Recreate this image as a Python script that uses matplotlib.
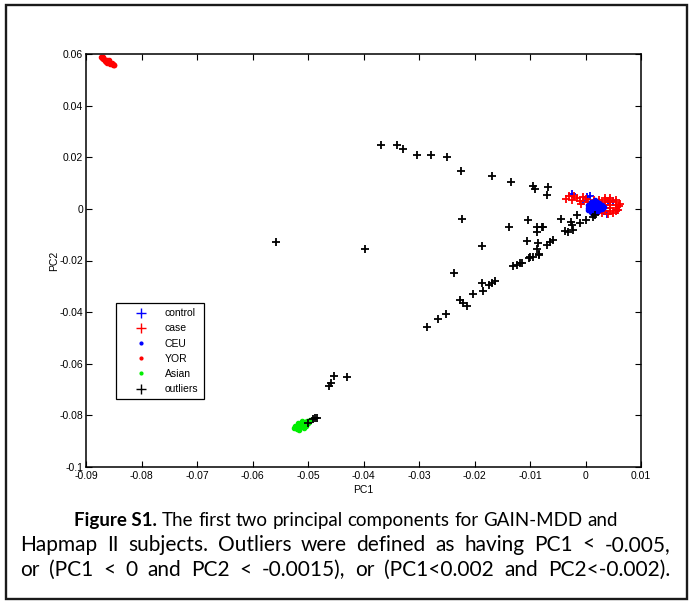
import numpy as np
import matplotlib
matplotlib.use("Agg")
import matplotlib.pyplot as plt
from matplotlib.lines import Line2D
from matplotlib.patches import Rectangle

# control subjects (blue crosses), mostly hidden under the case cloud
control_x = [-0.0024, 0.0002, 0.0008, 0.0056, 0.0038, 0.0020, 0.0030, 0.0010, 0.0040, -0.0005, 0.0050, 0.0025]
control_y = [0.0058, 0.0047, 0.0050, -0.0004, -0.0020, 0.0020, 0.0010, 0.0000, 0.0025, 0.0030, 0.0030, -0.0010]

# case subjects (red crosses)
case_x = [0.0015, 0.0015, 0.0015, 0.0015, 0.0015,
          0.0025, 0.0025, 0.0025, 0.0025, 0.0025,
          0.0035, 0.0035, 0.0035, 0.0035, 0.0035,
          0.0045, 0.0045, 0.0045, 0.0045, 0.0045,
          0.0055, 0.0055, 0.0055, 0.0055, 0.0055,
          -0.0035, -0.0030, -0.0025, -0.0020, -0.0015, -0.0010, -0.0005, 0.0000, 0.0005, -0.0008,
          0.0060, 0.0062, 0.0058, 0.0050, 0.0040, 0.0030, 0.0045, 0.0035]
case_y = [-0.0010, 0.0002, 0.0014, 0.0026, 0.0036,
          -0.0010, 0.0002, 0.0014, 0.0026, 0.0036,
          -0.0010, 0.0002, 0.0014, 0.0026, 0.0036,
          -0.0010, 0.0002, 0.0014, 0.0026, 0.0036,
          -0.0010, 0.0002, 0.0014, 0.0026, 0.0036,
          0.0040, 0.0048, 0.0035, 0.0050, 0.0042, 0.0030, 0.0045, 0.0038, 0.0025, 0.0020,
          0.0010, 0.0020, -0.0005, -0.0015, -0.0018, -0.0015, 0.0042, 0.0044]

# HapMap CEU (blue dots)
ceu_x = [0.0005, 0.0005, 0.0005, 0.0010, 0.0010, 0.0010, 0.0010, 0.0015, 0.0015, 0.0015, 0.0015,
         0.0020, 0.0020, 0.0020, 0.0020, 0.0025, 0.0025, 0.0025, 0.0030, 0.0030, 0.0018, 0.0012, 0.0033]
ceu_y = [0.0005, -0.0005, 0.0015, 0.0025, 0.0010, -0.0005, -0.0012, 0.0030, 0.0018, 0.0005, -0.0008,
         0.0028, 0.0012, 0.0000, -0.0012, 0.0022, 0.0008, -0.0005, 0.0015, 0.0000, 0.0035, -0.0016, 0.0008]

# HapMap YOR (red dots)
yor_x = [-0.0873, -0.0871, -0.0869, -0.0870, -0.0867, -0.0865, -0.0866, -0.0863, -0.0861, -0.0862,
         -0.0859, -0.0857, -0.0856, -0.0854, -0.0852, -0.0851, -0.0850, -0.0849, -0.0864, -0.0858]
yor_y = [0.0590, 0.0584, 0.0587, 0.0579, 0.0582, 0.0578, 0.0573, 0.0575, 0.0570, 0.0566,
         0.0572, 0.0566, 0.0561, 0.0564, 0.0558, 0.0562, 0.0556, 0.0559, 0.0569, 0.0576]

# HapMap Asian (green dots)
asian_x = [-0.0526, -0.0523, -0.0520, -0.0518, -0.0516, -0.0514, -0.0512, -0.0510, -0.0508, -0.0506, -0.0504,
           -0.0502, -0.0500, -0.0498, -0.0518, -0.0513, -0.0508, -0.0503, -0.0511, -0.0506, -0.0516, -0.0496]
asian_y = [-0.0850, -0.0843, -0.0854, -0.0838, -0.0848, -0.0833, -0.0843, -0.0828, -0.0838, -0.0826, -0.0834,
           -0.0821, -0.0830, -0.0824, -0.0828, -0.0840, -0.0848, -0.0842, -0.0822, -0.0832, -0.0856, -0.0818]

# outliers (black crosses)
out_x = [-0.0500, -0.0491, -0.0487, -0.0484, -0.0462, -0.0459, -0.0453, -0.0430, -0.0558,
         -0.0369, -0.0340, -0.0328, -0.0304, -0.0278, -0.0250, -0.0224, -0.0168, -0.0134,
         -0.0094, -0.0091, -0.0067, -0.0069, -0.0222, -0.0137, -0.0103, -0.0088, -0.0076,
         -0.0087, -0.0106, -0.0085, -0.0070, -0.0087, -0.0084, -0.0100, -0.0186, -0.0397,
         -0.0237, -0.0286, -0.0265, -0.0251, -0.0227, -0.0221, -0.0213, -0.0203, -0.0185,
         -0.0187, -0.0173, -0.0169, -0.0163, -0.0130, -0.0124, -0.0118, -0.0115, -0.0101,
         -0.0095, -0.0084, -0.0045, -0.0027, -0.0016, -0.0025, -0.0010, 0.0001, 0.0014,
         -0.0037, -0.0031, -0.0022, -0.0064, -0.0058, -0.0079, 0.0017]
out_y = [-0.0830, -0.0814, -0.0812, -0.0810, -0.0686, -0.0675, -0.0648, -0.0651, -0.0128,
         0.0247, 0.0246, 0.0233, 0.0210, 0.0210, 0.0201, 0.0148, 0.0127, 0.0104,
         0.0089, 0.0077, 0.0084, 0.0055, -0.0038, -0.0069, -0.0043, -0.0069, -0.0069,
         -0.0089, -0.0123, -0.0133, -0.0140, -0.0157, -0.0179, -0.0188, -0.0143, -0.0155,
         -0.0247, -0.0457, -0.0428, -0.0407, -0.0353, -0.0364, -0.0376, -0.0331, -0.0317,
         -0.0286, -0.0296, -0.0288, -0.0279, -0.0221, -0.0217, -0.0209, -0.0211, -0.0189,
         -0.0185, -0.0175, -0.0040, -0.0050, -0.0024, -0.0063, -0.0056, -0.0043, -0.0030,
         -0.0086, -0.0089, -0.0082, -0.0127, -0.0121, -0.0071, -0.0024]

xticks = [-0.09, -0.08, -0.07, -0.06, -0.05, -0.04, -0.03, -0.02, -0.01, 0, 0.01]
xtick_labels = ["-0.09", "-0.08", "-0.07", "-0.06", "-0.05", "-0.04", "-0.03", "-0.02", "-0.01", "0", "0.01"]
yticks = [-0.1, -0.08, -0.06, -0.04, -0.02, 0, 0.02, 0.04, 0.06]
ytick_labels = ["-0.1", "-0.08", "-0.06", "-0.04", "-0.02", "0", "0.02", "0.04", "0.06"]

legend_labels = ["control", "case", "CEU", "YOR", "Asian", "outliers"]

caption_lines = [
    ("Figure S1.", "The first two principal components for GAIN-MDD and"),
    ("", "Hapmap II subjects. Outliers were defined as having PC1 < -0.005,"),
    ("", "or (PC1 < 0 and PC2 < -0.0015), or (PC1<0.002 and PC2<-0.002)."),
]

plt.rcParams["font.family"] = ["Liberation Sans", "DejaVu Sans"]

W, H = 692, 603
fig = plt.figure(figsize=(W / 100, H / 100), dpi=100)
ax = fig.add_axes([86 / W, 1 - 467 / H, 555 / W, 413 / H])

cross = dict(linestyle="none", marker="+", markersize=6, markeredgewidth=1.3)
dot = dict(linestyle="none", marker=".", markersize=6)

ax.plot(control_x, control_y, color="blue", **cross)
ax.plot(case_x, case_y, color="red", **cross)
ax.plot(ceu_x, ceu_y, color="blue", **dot)
ax.plot(yor_x, yor_y, color="red", **dot)
ax.plot(asian_x, asian_y, color="#00ee00", **dot)
ax.plot(out_x, out_y, color="black", **cross)

ax.set_xlim(-0.09, 0.01)
ax.set_ylim(-0.1, 0.06)
ax.set_xticks(xticks, labels=xtick_labels)
ax.set_yticks(yticks, labels=ytick_labels)
ax.tick_params(direction="in", top=True, right=True, labelsize=7.5, length=4, width=0.8, pad=2)
ax.tick_params(axis="x", pad=3)
for sp in ax.spines.values():
    sp.set_linewidth(1.1)
ax.set_xlabel("PC1", fontsize=7.5, labelpad=3)
ax.set_ylabel("PC2", fontsize=7.5, labelpad=0)

leg_handles = [
    Line2D([], [], color="blue", linestyle="none", marker="+", markersize=7, markeredgewidth=1.0),
    Line2D([], [], color="red", linestyle="none", marker="+", markersize=7, markeredgewidth=1.0),
    Line2D([], [], color="blue", linestyle="none", marker=".", markersize=4),
    Line2D([], [], color="red", linestyle="none", marker=".", markersize=4),
    Line2D([], [], color="#00ee00", linestyle="none", marker=".", markersize=4),
    Line2D([], [], color="black", linestyle="none", marker="+", markersize=7, markeredgewidth=1.0),
]
leg = ax.legend(leg_handles, legend_labels,
                loc="upper left", bbox_to_anchor=(30 / 555, 164 / 413), borderaxespad=0,
                fontsize=7.5, fancybox=False, framealpha=1, edgecolor="black",
                handlelength=3.8, handletextpad=0.4, labelspacing=0.5, borderpad=0.5)
leg.get_frame().set_linewidth(0.9)

# outer frame of the figure
fig.patches.append(Rectangle((6 / W, 4 / H), 681 / W, 594 / H, transform=fig.transFigure,
                             fill=False, edgecolor="#1a1a1a", linewidth=1.7))

# caption, placed word by word so each line spans about the same width as in the original
cap_font = ["Lato", "DejaVu Sans"]
fig.canvas.draw()
r = fig.canvas.get_renderer()


def place_line(bold_part, text, base_px, x_left, x_right, size, justify):
    words = []
    if bold_part:
        words.append(fig.text(0, 1 - base_px / H, bold_part, fontsize=size, fontweight="bold",
                              family=cap_font, va="baseline", ha="left"))
    for w in text.split(" "):
        words.append(fig.text(0, 1 - base_px / H, w, fontsize=size, family=cap_font,
                              va="baseline", ha="left"))
    widths = [t.get_window_extent(r).width for t in words]
    a = fig.text(0, 0, "a b", fontsize=size, family=cap_font)
    b = fig.text(0, 0, "ab", fontsize=size, family=cap_font)
    space = a.get_window_extent(r).width - b.get_window_extent(r).width
    a.remove()
    b.remove()
    total = sum(widths)
    if justify:
        gap = (x_right - x_left - total) / (len(words) - 1)
        x = x_left
    else:
        gap = space
        x = (x_left + x_right) / 2 - (total + gap * (len(words) - 1)) / 2
    for t, w in zip(words, widths):
        t.set_x(x / W)
        x += w + gap


place_line(caption_lines[0][0], caption_lines[0][1], 526, 75, 617, 13.5, False)
place_line(caption_lines[1][0], caption_lines[1][1], 551, 20, 670, 15, True)
place_line(caption_lines[2][0], caption_lines[2][1], 576, 20, 670, 15, True)

fig.savefig("out.png", dpi=100)
